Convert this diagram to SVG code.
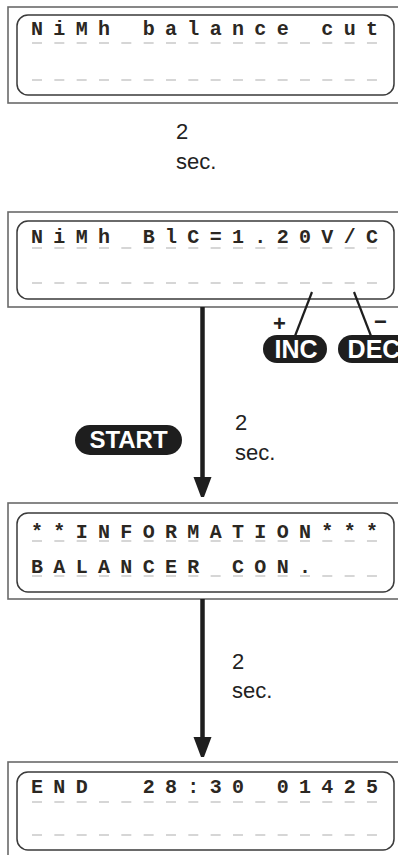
<svg xmlns="http://www.w3.org/2000/svg" width="398" height="855" viewBox="0 0 398 855">
<style>
.outer{fill:#fff;stroke:#6a6a6a;stroke-width:1.6}
.inner{fill:#fff;stroke:#3a3a3a;stroke-width:1.5}
.dash{stroke:#c9c9c9;stroke-width:1.5;stroke-dasharray:10 12.33;fill:none}
.lcd{font-family:"Liberation Mono",monospace;font-weight:bold;font-size:20px;fill:#2b2722;text-anchor:middle;white-space:pre}
.lbl{font-family:"Liberation Sans",Arial,sans-serif;font-size:22px;fill:#222}
.pill{fill:#1e1e1e}
.ptxt{font-family:"Liberation Sans",Arial,sans-serif;font-weight:bold;fill:#fff;text-anchor:middle}
.conn{stroke:#1e1e1e;stroke-width:4.5;fill:none}
.thin{stroke:#1e1e1e;stroke-width:2.2;fill:none}
</style>
<defs>
<marker id="ah" markerUnits="userSpaceOnUse" markerWidth="20" markerHeight="28" refX="0" refY="9" orient="auto">
<path d="M0,0 L24,9 L0,18 Z" fill="#1e1e1e"/>
</marker>
</defs>

<g id="node1">
<rect class="outer" x="8" y="7" width="410" height="96"/>
<rect class="inner" x="17" y="15" width="377" height="80" rx="11"/>
<line class="dash" x1="32" y1="43" x2="378" y2="43"/>
<line class="dash" x1="32" y1="80" x2="378" y2="80"/>
<text class="lcd" y="35" x="37 59.33 81.67 104 126.33 148.67 171 193.33 215.67 238 260.33 282.67 305 327.33 349.67 372">NiMh balance cut</text>
</g>

<g id="node2">
<rect class="outer" x="8" y="212" width="410" height="95"/>
<rect class="inner" x="17" y="221" width="377" height="78" rx="11"/>
<line class="dash" x1="32" y1="248" x2="378" y2="248"/>
<line class="dash" x1="32" y1="283" x2="378" y2="283"/>
<text class="lcd" y="243" x="37 59.33 81.67 104 126.33 148.67 171 193.33 215.67 238 260.33 282.67 305 327.33 349.67 372">NiMh BlC=1.20V/C</text>
</g>

<g id="node3">
<rect class="outer" x="8" y="503" width="410" height="96"/>
<rect class="inner" x="17" y="513" width="377" height="79" rx="11"/>
<line class="dash" x1="32" y1="541" x2="378" y2="541"/>
<line class="dash" x1="32" y1="576" x2="378" y2="576"/>
<text class="lcd" y="538" x="37 59.33 81.67 104 126.33 148.67 171 193.33 215.67 238 260.33 282.67 305 327.33 349.67 372">**INFORMATION***</text>
<text class="lcd" y="573" x="37 59.33 81.67 104 126.33 148.67 171 193.33 215.67 238 260.33 282.67 305">BALANCER CON.</text>
</g>

<g id="node4">
<rect class="outer" x="8" y="762" width="410" height="110"/>
<rect class="inner" x="17" y="772" width="377" height="78" rx="11"/>
<line class="dash" x1="32" y1="802" x2="378" y2="802"/>
<line class="dash" x1="32" y1="835" x2="378" y2="835"/>
<text class="lcd" y="793" x="37 59.33 81.67 148.67 171 193.33 215.67 238 282.67 305 327.33 349.67 372">END28:3001425</text>
</g>

<g id="label1">
<text class="lbl" x="176" y="139">2</text>
<text class="lbl" x="176" y="169">sec.</text>
</g>

<g id="btn-inc">
<rect class="pill" x="263" y="335" width="64" height="28" rx="14"/>
<text class="ptxt" x="296" y="358" font-size="25">INC</text>
<text class="lbl" x="273" y="331" font-size="20" font-weight="bold">+</text>
</g>

<g id="btn-dec">
<rect class="pill" x="338" y="335" width="80" height="28" rx="14"/>
<text class="ptxt" x="374" y="358" font-size="25">DEC</text>
<text class="lbl" x="374" y="329" font-size="20" font-weight="bold">−</text>
</g>

<g id="btn-start">
<rect class="pill" x="75" y="425" width="107" height="30" rx="15"/>
<text class="ptxt" x="128.5" y="448" font-size="24">START</text>
</g>

<g id="label2">
<text class="lbl" x="235" y="430">2</text>
<text class="lbl" x="235" y="460">sec.</text>
</g>

<g id="label3">
<text class="lbl" x="232" y="669">2</text>
<text class="lbl" x="232" y="698">sec.</text>
</g>

<g id="connectors">
<line class="conn" x1="202.5" y1="307" x2="202.5" y2="477" marker-end="url(#ah)"/>
<line class="conn" x1="202.5" y1="599" x2="202.5" y2="737" marker-end="url(#ah)"/>
<line class="thin" x1="312" y1="292" x2="295" y2="336"/>
<line class="thin" x1="354" y1="292" x2="371" y2="336"/>
</g>
</svg>
